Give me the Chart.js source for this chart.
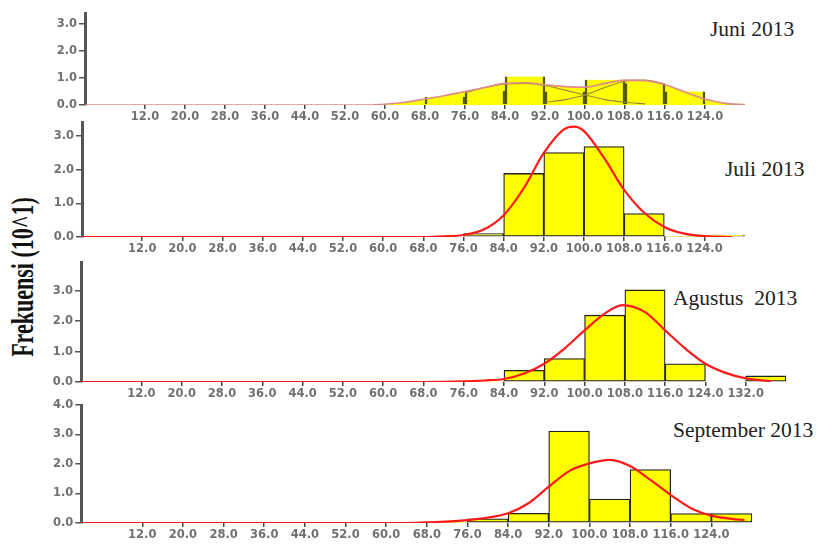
<!DOCTYPE html>
<html>
<head>
<meta charset="utf-8">
<script src="https://cdn.jsdelivr.net/npm/chart.js@4.4.1/dist/chart.umd.min.js"></script>
<style>
    body { margin: 0; background: #fff; width: 817px; height: 545px; position: relative; overflow: hidden; }
    canvas { position: absolute; left: 0; }
    .ttl { position: absolute; font-family: "Liberation Serif", serif; font-size: 21.5px; line-height: 1; color: #222; white-space: pre; }
    #ylab { position: absolute; left: -77px; top: 265px; width: 200px; height: 24px; line-height: 24px; text-align: center;
            font-family: "Liberation Serif", serif; font-weight: bold; font-size: 22px; color: #111;
            transform: rotate(-90deg) scale(1, 1.4); }
</style>
</head>
<body>
<div id="ylab">Frekuensi (10^1)</div>
<div class="ttl" style="left:710px;top:19px">Juni 2013</div>
<div class="ttl" style="left:725px;top:159px">Juli 2013</div>
<div class="ttl" style="left:673px;top:288px">Agustus  2013</div>
<div class="ttl" style="left:673px;top:420px">September 2013</div>
<script>
// -----------------------
// DATA
// -----------------------

// histogram bins (mid points, width 8)
const binMids = [64, 72, 80, 88, 96, 104, 112, 120, 128, 136];

const juniBars      = [0.05, 0.3, 0.52, 1.05, 0.5, 0.93, 0.8, 0.5, 0.05, 0];
const juliBars      = [0, 0, 0.1, 1.89, 2.51, 2.69, 0.7, 0.02, 0.06, 0];
const agustusBars   = [0, 0, 0.03, 0.385, 0.77, 2.2, 3.03, 0.6, 0, 0.2];
const septemberBars = [0, 0.02, 0.14, 0.33, 3.12, 0.81, 1.81, 0.32, 0.32, 0];

// fitted curves
const juniCurveX = [0, 56, 60, 64, 68, 72, 76, 80, 84, 88, 92, 96, 100, 104, 108, 112, 116, 120, 124, 128, 132];
const juniCurveY = [0, 0, 0.03, 0.1, 0.22, 0.35, 0.5, 0.65, 0.8, 0.82, 0.75, 0.68, 0.66, 0.8, 0.92, 0.9, 0.75, 0.48, 0.22, 0.06, 0.01];
const juniLowX  = [76, 80, 84, 88, 92, 96, 100, 104, 108, 112];
const juniLowY  = [0.45, 0.65, 0.78, 0.8, 0.72, 0.55, 0.37, 0.2, 0.1, 0.04];
const juniHighX = [92, 96, 100, 104, 108, 112, 116];
const juniHighY = [0.1, 0.2, 0.37, 0.65, 0.88, 0.92, 0.78];

const juliCurveX = [0, 68, 72, 76, 80, 84, 88, 92, 96, 98, 100, 104, 108, 112, 116, 120, 124, 129.5];
const juliCurveY = [0, 0, 0.02, 0.06, 0.22, 0.65, 1.45, 2.5, 3.2, 3.28, 3.15, 2.35, 1.4, 0.72, 0.3, 0.1, 0.03, 0];

const agustusCurveX = [0, 68, 76, 80, 84, 88, 92, 96, 100, 104, 107.5, 112, 116, 120, 124, 128, 132, 137];
const agustusCurveY = [0, 0, 0.02, 0.05, 0.1, 0.28, 0.6, 1.1, 1.7, 2.25, 2.53, 2.3, 1.7, 1.1, 0.6, 0.3, 0.12, 0.03];

const septemberCurveX = [0, 64, 68, 76, 84, 88, 92, 96, 100, 104, 108, 112, 116, 120, 124, 128, 130.5];
const septemberCurveY = [0, 0, 0.02, 0.1, 0.33, 0.67, 1.23, 1.76, 2.02, 2.14, 1.93, 1.46, 0.95, 0.5, 0.25, 0.14, 0.1];

// tick labels
const xTicks        = [12, 20, 28, 36, 44, 52, 60, 68, 76, 84, 92, 100, 108, 116, 124];
const xTicksAgustus = [12, 20, 28, 36, 44, 52, 60, 68, 76, 84, 92, 100, 108, 116, 124, 132];
const yTicks        = [0, 1, 2, 3];
const yTicksSept    = [0, 1, 2, 3, 4];

// -----------------------
// HELPERS
// -----------------------

const Y_W = 40;      // y axis box width
const X_H = 24;      // x axis box height
const PAD_TOP = 12;

const pts = (xs, ys) => xs.map((x, i) => ({ x: x, y: ys[i] }));

// order: lower number is drawn on top
function curve(xs, ys, color, width, order){
    return {
        type: 'line',
        data: pts(xs, ys),
        borderColor: color,
        borderWidth: width,
        pointRadius: 0,
        tension: 0.4,
        cubicInterpolationMode: 'monotone',
        fill: false,
        order: order || 0
    };
}

function area(xs, ys, color, order){
    return {
        type: 'line',
        data: pts(xs, ys),
        borderWidth: 0,
        pointRadius: 0,
        tension: 0.4,
        cubicInterpolationMode: 'monotone',
        fill: 'origin',
        backgroundColor: color,
        order: order
    };
}

function bars(vals, border, order){
    return {
        type: 'bar',
        data: pts(binMids, vals),
        backgroundColor: '#ffff00',
        borderColor: border.color,
        borderWidth: border.width,
        borderSkipped: false,
        barPercentage: 1,
        categoryPercentage: 1,
        order: order || 1
    };
}

const tickFont = { family: 'DejaVu Sans', size: 11.5, weight: 'bold' };

function makePanel(p){
    const cv = document.createElement('canvas');
    const h = Math.round(p.bottom - p.top) + PAD_TOP + X_H;
    cv.width = 817;
    cv.height = h;
    cv.style.top = (p.top - PAD_TOP) + 'px';
    document.body.appendChild(cv);

    new Chart(cv.getContext('2d'), {
        type: 'bar',
        data: { datasets: p.datasets },
        options: {
            responsive: false,
            animation: false,
            layout: { padding: { top: PAD_TOP, left: p.left - Y_W, right: 817 - p.right, bottom: 0 } },
            plugins: { legend: { display: false }, tooltip: { enabled: false } },
            scales: {
                x: {
                    type: 'linear',
                    min: 0, max: p.xMax,
                    offset: false,
                    afterBuildTicks: s => { s.ticks = p.xTicks.map(v => ({ value: v })); },
                    afterFit: s => { s.height = X_H; },
                    border: { display: false },
                    grid: { offset: false, drawOnChartArea: false, tickLength: 4, color: '#444', lineWidth: 1.5 },
                    ticks: { autoSkip: false, maxRotation: 0, padding: 1, color: '#707070', font: tickFont,
                             callback: v => Number(v).toFixed(1) }
                },
                y: {
                    min: 0, max: p.yMax,
                    afterBuildTicks: s => { s.ticks = p.yTicks.map(v => ({ value: v })); },
                    afterFit: s => { s.width = Y_W; },
                    border: { color: '#555', width: 3 },
                    grid: { drawOnChartArea: false, tickLength: 6, color: '#555', lineWidth: 1.5 },
                    ticks: { padding: 2, color: '#707070', font: tickFont,
                             callback: v => Number(v).toFixed(1) }
                }
            }
        }
    });
}

// -----------------------
// PANELS
// -----------------------

const blackEdge = { color: '#222', width: 1.3 };
const oliveSides = { color: '#55551a', width: { left: 2.5, right: 2.5, top: 0, bottom: 0 } };

makePanel({
    top: 13, bottom: 105, left: 85, right: 745, xMax: 132, yMax: 3.4,
    xTicks: xTicks, yTicks: yTicks,
    datasets: [
        curve(juniCurveX, juniCurveY, '#e08a8a', 1.6, 0),
        curve(juniLowX, juniLowY, '#9a8a3a', 1.1, 0),
        curve(juniHighX, juniHighY, '#9a8a3a', 1.1, 0),
        bars(juniBars, oliveSides, 1),
        area(juniCurveX, juniCurveY, '#ffff00', 2)
    ]
});

makePanel({
    top: 122, bottom: 236.7, left: 82, right: 744.6, xMax: 132, yMax: 3.42,
    xTicks: xTicks, yTicks: yTicks,
    datasets: [ curve(juliCurveX, juliCurveY, '#ff1a1a', 2.2), bars(juliBars, blackEdge) ]
});

makePanel({
    top: 262, bottom: 381.7, left: 81, right: 786, xMax: 140, yMax: 3.95,
    xTicks: xTicksAgustus, yTicks: yTicks,
    datasets: [ curve(agustusCurveX, agustusCurveY, '#ff1a1a', 2.2), bars(agustusBars, blackEdge) ]
});

makePanel({
    top: 405, bottom: 523, left: 81.3, right: 752, xMax: 132, yMax: 4.0,
    xTicks: xTicks, yTicks: yTicksSept,
    datasets: [ curve(septemberCurveX, septemberCurveY, '#ff1a1a', 2.2), bars(septemberBars, blackEdge) ]
});
</script>
</body>
</html>
